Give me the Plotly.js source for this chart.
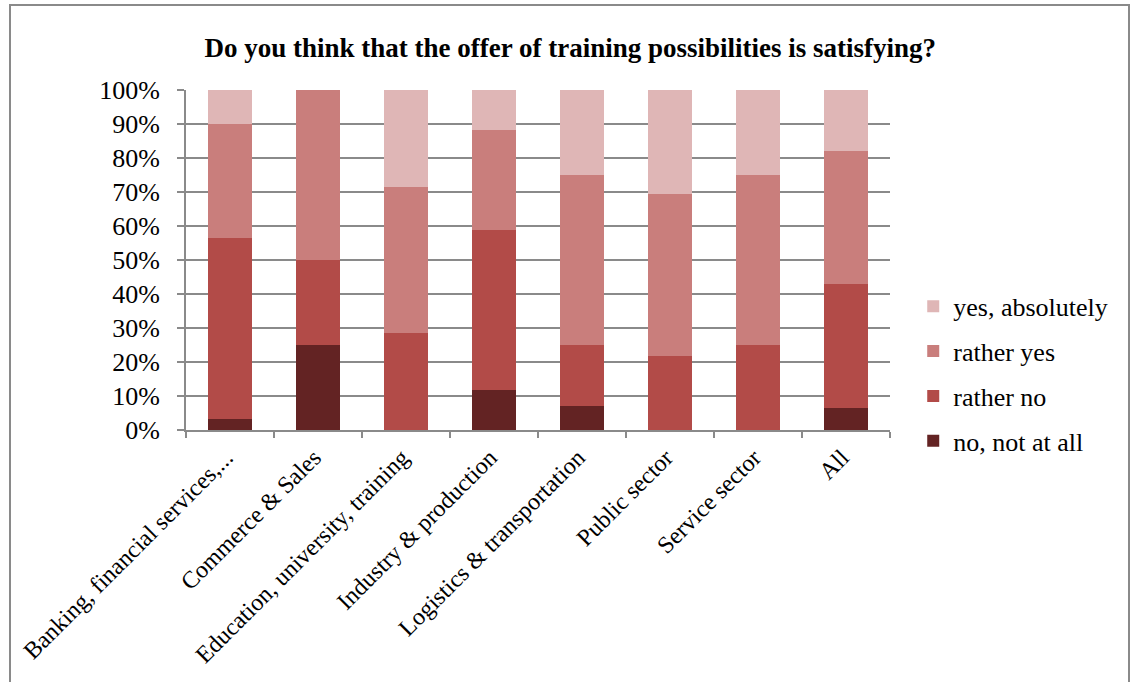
<!DOCTYPE html>
<html>
<head>
<meta charset="utf-8">
<script src="https://cdn.plot.ly/plotly-3.0.1.min.js"></script>
<style>
  html, body { margin: 0; padding: 0; background: #fff; }
  #wrap { position: relative; width: 1136px; height: 682px; overflow: hidden; }
  #chart { position: absolute; left: 0; top: 0; width: 1136px; height: 682px; }
  #frame { position: absolute; left: 9px; top: 4px; width: 1117px; height: 700px; border: 2px solid #8a8a8a; pointer-events: none; }
</style>
</head>
<body>
<div id="wrap">
  <div id="chart"></div>
  <div id="frame"></div>
</div>
<script>
const categories = [
  "Banking, financial services,...",
  "Commerce & Sales",
  "Education, university, training",
  "Industry & production",
  "Logistics & transportation",
  "Public sector",
  "Service sector",
  "All"
];
const seriesNames = ["no, not at all", "rather no", "rather yes", "yes, absolutely"];
const noNotAtAll     = [3.3, 25.0, 0.0, 11.8, 7.1, 0.0, 0.0, 6.4];
const ratherNo       = [53.3, 25.0, 28.6, 47.1, 17.9, 21.7, 25.0, 36.4];
const ratherYes      = [33.3, 50.0, 42.9, 29.4, 50.0, 47.8, 50.0, 39.4];
const yesAbsolutely  = [10.0, 0.0, 28.6, 11.8, 25.0, 30.4, 25.0, 17.8];
const yTickVals = [0, 10, 20, 30, 40, 50, 60, 70, 80, 90, 100];
const yTickText = ["0%", "10%", "20%", "30%", "40%", "50%", "60%", "70%", "80%", "90%", "100%"];
const colors = ["#632323", "#B24B48", "#C97E7C", "#DFB6B6"];

const serif = "'Liberation Serif', 'Times New Roman', serif";
const values = [noNotAtAll, ratherNo, ratherYes, yesAbsolutely];
const traces = values.map((v, i) => ({
  type: "bar",
  name: seriesNames[i],
  x: categories,
  y: v,
  legendgroup: "g" + i,
  legendrank: 1000 - i,
  marker: { color: colors[i], line: { width: 0 } },
  hoverinfo: "skip"
}));

const layout = {
  width: 1136,
  height: 682,
  margin: { l: 186, r: 246, t: 90, b: 252 },
  font: { family: serif, color: "#000" },
  paper_bgcolor: "#ffffff",
  plot_bgcolor: "#ffffff",
  barmode: "stack",
  bargap: 0.5,
  showlegend: true,
  title: {
    text: "<b>Do you think that the offer of training possibilities is satisfying?</b>",
    font: { family: serif, size: 27, color: "#000" },
    x: 0.502, xanchor: "center", xref: "container",
    y: 0.931, yanchor: "middle", yref: "container"
  },
  xaxis: {
    type: "category",
    tickangle: -45,
    tickson: "boundaries",
    ticks: "outside",
    ticklen: 6,
    tickcolor: "#8a8a8a",
    tickwidth: 2,
    showline: true,
    linecolor: "#8a8a8a",
    linewidth: 2,
    showgrid: false,
    ticklabelshift: -4,
    ticklabelstandoff: 2,
    tickfont: { family: serif, size: 24, color: "#000" },
    fixedrange: true
  },
  yaxis: {
    range: [0, 100],
    tickvals: yTickVals,
    ticktext: yTickText,
    ticks: "outside",
    ticklen: 7,
    tickcolor: "#8a8a8a",
    tickwidth: 2,
    showline: true,
    linecolor: "#8a8a8a",
    linewidth: 2,
    showgrid: true,
    gridcolor: "#8a8a8a",
    gridwidth: 2,
    zeroline: false,
    ticklabelstandoff: 12,
    tickfont: { family: serif, size: 26, color: "#000" },
    fixedrange: true
  },
  legend: {
    x: 1.033, xanchor: "left",
    y: 0.165, yanchor: "middle",
    traceorder: "grouped",
    tracegroupgap: 8,
    font: { family: serif, size: 26, color: "#000" },
    bgcolor: "rgba(0,0,0,0)"
  }
};

Plotly.newPlot("chart", traces, layout, { staticPlot: true, displayModeBar: false });
</script>
</body>
</html>
